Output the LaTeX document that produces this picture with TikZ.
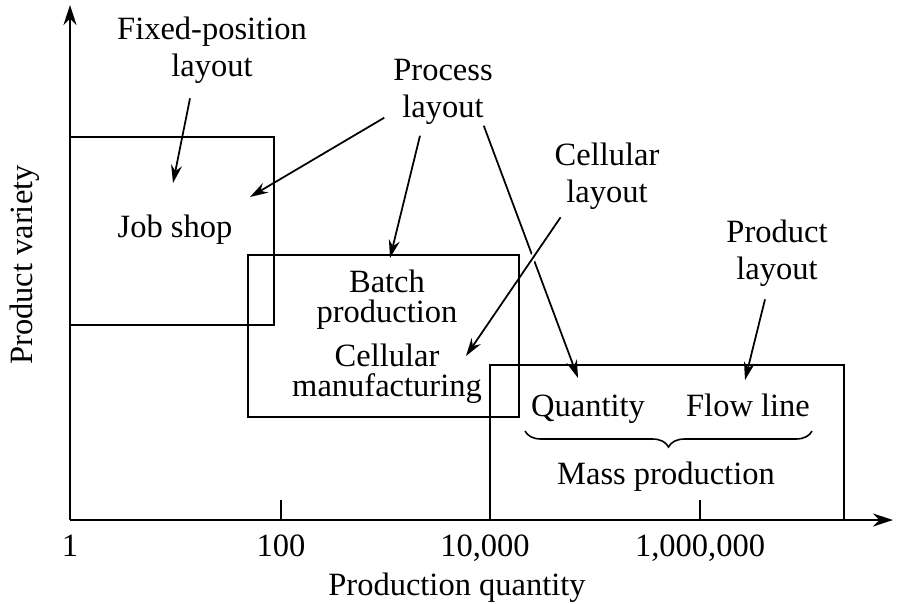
\documentclass[tikz,border=0pt]{standalone}
\usepackage{fontspec}
\setmainfont{Liberation Serif}
\usetikzlibrary{arrows.meta,calc,decorations.pathreplacing}
\tikzset{
  >={Stealth[length=3.6mm,width=2.2mm]},
  lbl/.style={align=center, inner sep=1pt, font=\fontsize{18.5}{21}\selectfont},
  inlbl/.style={align=center, inner sep=1pt, font=\fontsize{18.5}{17}\selectfont},
  axis/.style={-{Stealth[length=4mm,width=2.6mm]}, line width=1.5pt},
  zone/.style={draw, line width=1pt},
  flow/.style={->, line width=1pt},
  gap/.style={preaction={draw, white, line width=3.5pt, -}},
  tick/.style={line width=0.7pt},
}

\begin{document}
\begin{tikzpicture}[x=0.02cm,y=-0.02cm]
  \useasboundingbox (0,0) rectangle (911,603);
  \coordinate (o) at (70,520);
  \coordinate (xend) at (893,520);
  \coordinate (yend) at (70,5);

  \node[lbl] (fixed) at (212,50)  {Fixed-position\\layout};
  \node[lbl] (proc)  at (443,92)  {Process\\layout};
  \node[lbl] (cell)  at (607,176) {Cellular\\layout};
  \node[lbl] (prod)  at (777,253) {Product\\layout};
  \node[lbl, anchor=base] (job)   at (175,237) {Job shop};
  \node[inlbl] (batch) at (387,300) {Batch\\production};
  \node[inlbl] (manuf) at (387,374) {Cellular\\manufacturing};
  \node[lbl, anchor=base] (qty)  at (588,416) {Quantity};
  \node[lbl, anchor=base] (flw)  at (748,416) {Flow line};
  \node[lbl, anchor=base] (mass) at (666,484) {Mass production};

  \node[lbl, anchor=base] (t1)   at (70,556)  {1};
  \node[lbl, anchor=base] (t2)   at (281,556) {100};
  \node[lbl, anchor=base] (t4)   at (485,556) {10,000};
  \node[lbl, anchor=base] (t6)   at (700,556) {1,000,000};
  \node[lbl, anchor=base] (xlab) at (457,595) {Production quantity};
  \node[lbl, rotate=90] (ylab) at (25,265) {Product variety};

  \coordinate (jobtip)   at (173,183);
  \coordinate (jobtip2)  at (250,197);
  \coordinate (batchtip) at (390,258);
  \coordinate (qtytip)   at (578,378);
  \coordinate (mantip)   at (466,356);
  \coordinate (flwtip)   at (745,380);
  \coordinate (bl) at (525,431);
  \coordinate (br) at (812,431);

  \draw[axis] (o) -- (xend);
  \draw[axis] (o) -- (yend);
  \foreach \x in {281,700}
    \draw[tick] (\x,500) -- (\x,520);

  \draw[flow] ([shift={(-22,13)}]fixed.south) -- (jobtip);
  \draw[flow] ([shift={(-7,-9)}]proc.south west) -- (jobtip2);
  \draw[flow] ([shift={(-23,9)}]proc.south) -- (batchtip);
  \draw[flow] ([shift={(-11,-1)}]proc.south east) -- (qtytip);
  \draw[flow, gap] ([shift={(8,6)}]cell.south west) -- (mantip);
  \draw[flow] ([shift={(-12,11)}]prod.south) -- (flwtip);

  \draw[zone] (70,137) rectangle (274,325);
  \draw[zone] (248,255) rectangle (519,417);
  \draw[zone] (490,365) rectangle (844,520);

  \draw[line width=0.9pt, decorate, decoration={brace, mirror, amplitude=0.32cm}] (bl) -- (br);
\end{tikzpicture}
\end{document}
